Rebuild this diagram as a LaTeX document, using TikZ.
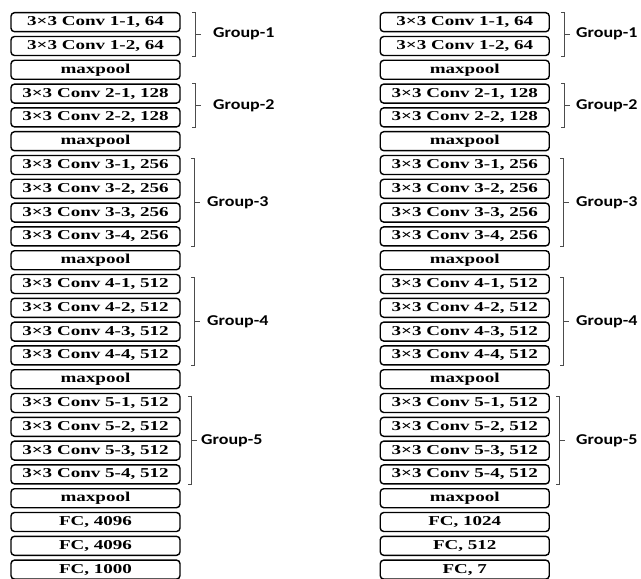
\documentclass[tikz,border=0pt]{standalone}
\usepackage{fontspec}
\usetikzlibrary{calc}
\newfontfamily\boxfont[FakeStretch=1.4]{Liberation Serif}
\newfontfamily\grpfont[FakeStretch=1.2]{Carlito}
\newcommand\grpbrace[8]{%
  \coordinate (#1x) at (#5,0);
  \coordinate (#1a) at (#1x |- #2#3.north);
  \coordinate (#1t) at ([yshift=-#7]#1a);
  \coordinate (#1b) at (#1x |- #2#4.south);
  \coordinate (#1m) at ($(#1t)!0.5!(#1b)$);
  \coordinate (#1lx) at (#6,0);
  \draw[brk] ([xshift=-3bp]#1t) -- (#1t) -- (#1b) -- ([xshift=-3bp]#1b);
  \draw[brk] (#1m) -- ([xshift=6bp]#1m);
  \node[grp] (#1l) at (#1lx |- #1m) {#8};
}
\begin{document}
\begin{tikzpicture}[x=1bp,y=-1bp,
  blk/.style={draw=black, line width=1.4bp, rounded corners=3.5bp,
    minimum width=169bp, minimum height=19bp, inner sep=0pt,
    font=\boxfont\bfseries\fontsize{13.6bp}{15bp}\selectfont},
  brk/.style={draw=black!70, line width=0.8bp},
  grp/.style={anchor=west, inner sep=0pt,
    font=\grpfont\bfseries\fontsize{15bp}{17bp}\selectfont}]
\useasboundingbox[fill=white] (0,0) rectangle (641,579);
\foreach \i/\t in {0/{3×3 Conv 1-1, 64},1/{3×3 Conv 1-2, 64},2/maxpool,
  3/{3×3 Conv 2-1, 128},4/{3×3 Conv 2-2, 128},5/maxpool,
  6/{3×3 Conv 3-1, 256},7/{3×3 Conv 3-2, 256},8/{3×3 Conv 3-3, 256},9/{3×3 Conv 3-4, 256},10/maxpool,
  11/{3×3 Conv 4-1, 512},12/{3×3 Conv 4-2, 512},13/{3×3 Conv 4-3, 512},14/{3×3 Conv 4-4, 512},15/maxpool,
  16/{3×3 Conv 5-1, 512},17/{3×3 Conv 5-2, 512},18/{3×3 Conv 5-3, 512},19/{3×3 Conv 5-4, 512},20/maxpool,
  21/{FC, 4096},22/{FC, 4096},23/{FC, 1000}}
  \node[blk] (L\i) at (95.5,{22.2+23.8*\i}) {\t};
\foreach \i/\t in {0/{3×3 Conv 1-1, 64},1/{3×3 Conv 1-2, 64},2/maxpool,
  3/{3×3 Conv 2-1, 128},4/{3×3 Conv 2-2, 128},5/maxpool,
  6/{3×3 Conv 3-1, 256},7/{3×3 Conv 3-2, 256},8/{3×3 Conv 3-3, 256},9/{3×3 Conv 3-4, 256},10/maxpool,
  11/{3×3 Conv 4-1, 512},12/{3×3 Conv 4-2, 512},13/{3×3 Conv 4-3, 512},14/{3×3 Conv 4-4, 512},15/maxpool,
  16/{3×3 Conv 5-1, 512},17/{3×3 Conv 5-2, 512},18/{3×3 Conv 5-3, 512},19/{3×3 Conv 5-4, 512},20/maxpool,
  21/{FC, 1024},22/{FC, 512},23/{FC, 7}}
  \node[blk] (R\i) at (464.75,{22.2+23.8*\i}) {\t};
\grpbrace{la}{L}{0}{1}{195}{213}{0bp}{Group-1}
\grpbrace{lb}{L}{3}{4}{195}{213}{0bp}{Group-2}
\grpbrace{lc}{L}{6}{9}{194}{207}{4bp}{Group-3}
\grpbrace{ld}{L}{11}{14}{194}{207}{3.5bp}{Group-4}
\grpbrace{le}{L}{16}{19}{191}{201}{3.5bp}{Group-5}
\grpbrace{ra}{R}{0}{1}{564}{576}{0bp}{Group-1}
\grpbrace{rb}{R}{3}{4}{564}{576}{0bp}{Group-2}
\grpbrace{rc}{R}{6}{9}{563}{576}{4bp}{Group-3}
\grpbrace{rd}{R}{11}{14}{563}{576}{3.5bp}{Group-4}
\grpbrace{re}{R}{16}{19}{559}{576}{3.5bp}{Group-5}
\end{tikzpicture}
\end{document}
